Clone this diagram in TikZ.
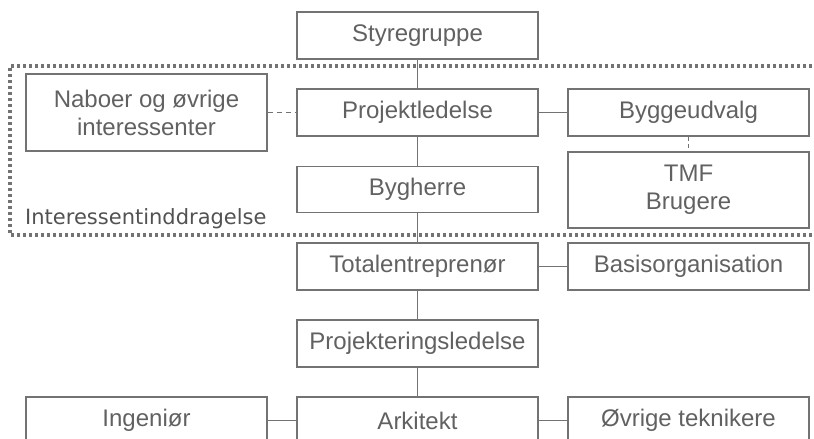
\documentclass[tikz,border=0pt]{standalone}
\usepackage{fontspec}
\setmainfont{Liberation Sans}
\newfontfamily\labelfont{DejaVu Sans}
\begin{document}
\begin{tikzpicture}[x=1pt,y=-1pt,
  linecol/.style={draw=black!55},
  orgbox/.style={linecol, line width=1.8pt, rectangle, inner sep=0pt,
    minimum width=241pt, minimum height=47pt, text=black!62,
    font=\fontsize{24}{28}\selectfont, align=center},
  link/.style={linecol, line width=1.8pt},
  dashlink/.style={linecol, line width=1.8pt, dash pattern=on 5pt off 4pt},
  dotframe/.style={draw=black!55, line width=3.2pt, dash pattern=on 3pt off 3pt}
]
\clip (0,0) rectangle (814,439);

% stakeholder frame (open to the right)
\draw[dotframe] (830,66) -- (10,66) -- (10,235) -- (830,235);
\node[anchor=base west, text=black!68, inner sep=0pt,
  font=\labelfont\fontsize{21}{24}\selectfont] (lbl) at (25,224) {Interessentinddragelse};

% main column
\node[orgbox] (styre) at (417.5,35.5) {Styregruppe};
\node[orgbox] (proj) at (417.5,112.5) {Projektledelse};
\node[orgbox, minimum height=46pt] (bygh) at (417.5,189.5) {Bygherre};
\node[orgbox] (total) at (417.5,266.5) {Totalentreprenør};
\node[orgbox] (projl) at (417.5,343.5) {Projekteringsledelse};
\node[orgbox] (ark) at (417.5,420.5) {Arkitekt};

% side boxes
\node[orgbox, minimum height=77pt] (nabo) at (146.5,112.5) {Naboer og øvrige\\interessenter};
\node[orgbox] (bygud) at (688.5,112.5) {Byggeudvalg};
\node[orgbox, minimum height=76pt] (tmf) at (688.5,190) {TMF\\Brugere};
\node[orgbox] (basis) at (688.5,266.5) {Basisorganisation};
\node[orgbox] (ing) at (146.5,420.5) {Ingeniør};
\node[orgbox] (ovr) at (688.5,420.5) {Øvrige teknikere};

% connectors
\draw[link] (styre) -- (proj);
\draw[link] (proj) -- (bygh);
\draw[link] (bygh) -- (total);
\draw[link] (total) -- (projl);
\draw[link] (projl) -- (ark);
\draw[link] (proj) -- (bygud);
\draw[link] (total) -- (basis);
\draw[link] (ark) -- (ing);
\draw[link] (ark) -- (ovr);
\draw[dashlink] (nabo) -- (proj);
\draw[dashlink, dash pattern=on 4pt off 3pt] (bygud) -- (tmf);
\end{tikzpicture}
\end{document}
